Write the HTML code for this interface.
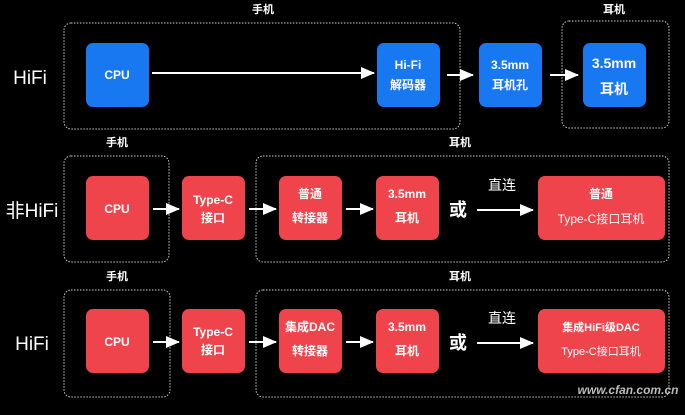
<!DOCTYPE html>
<html><head><meta charset="utf-8"><style>
html,body{margin:0;padding:0;background:#000;}
svg text{font-family:"Liberation Sans","Noto Sans CJK SC",sans-serif;fill:#fff;text-anchor:middle;}
</style></head><body>
<svg width="685" height="410" viewBox="0 0 685 410" xmlns="http://www.w3.org/2000/svg">
<defs><marker id="a" markerWidth="8" markerHeight="8" refX="7" refY="4" orient="auto" markerUnits="userSpaceOnUse"><path d="M0,0 L8,4 L0,8 z" fill="#fff"/></marker>
<marker id="b" markerWidth="14" markerHeight="12" refX="13" refY="6" orient="auto" markerUnits="userSpaceOnUse"><path d="M0,0 L14,6 L0,12 z" fill="#fff"/></marker></defs>
<g fill="none" stroke="#ccc" stroke-width="1" stroke-dasharray="1.5,1.5">
<rect x="64" y="23" width="396" height="106" rx="7"/>
<rect x="562" y="21" width="107" height="107" rx="7"/>
<rect x="64" y="156" width="105" height="106" rx="7"/>
<rect x="256" y="156" width="413" height="106" rx="7"/>
<rect x="64" y="290" width="106" height="107" rx="7"/>
<rect x="256" y="290" width="413" height="107" rx="7"/>
</g>
<g font-size="11" font-weight="bold">
<text x="263" y="13">手机</text><text x="614" y="13">耳机</text>
<text x="117" y="146">手机</text><text x="460" y="146">耳机</text>
<text x="117" y="280">手机</text><text x="460" y="280">耳机</text>
</g>
<g font-size="19"><text x="30" y="84">HiFi</text><text x="32" y="217">非HiFi</text><text x="32" y="350">HiFi</text></g>
<g fill="#1778f2">
<rect x="86" y="43" width="63" height="64" rx="7"/><rect x="377" y="43" width="63" height="64" rx="7"/>
<rect x="479" y="43" width="63" height="64" rx="7"/><rect x="583" y="43" width="63" height="64" rx="7"/>
</g>
<g fill="#ef444c">
<rect x="86" y="176" width="63" height="64" rx="7"/><rect x="182" y="176" width="63" height="64" rx="7"/>
<rect x="279" y="176" width="63" height="64" rx="7"/><rect x="376" y="176" width="63" height="64" rx="7"/>
<rect x="538" y="176" width="127" height="64" rx="7"/>
<rect x="86" y="309" width="63" height="64" rx="7"/><rect x="182" y="309" width="63" height="64" rx="7"/>
<rect x="279" y="309" width="63" height="64" rx="7"/><rect x="376" y="309" width="63" height="64" rx="7"/>
<rect x="538" y="309" width="127" height="64" rx="7"/>
</g>
<g font-size="12" font-weight="bold">
<text x="117" y="79">CPU</text>
<text x="408" y="69">Hi-Fi</text><text x="408" y="89">解码器</text>
<text x="510" y="69">3.5mm</text><text x="510" y="89">耳机孔</text>
<text x="614" y="68" font-size="14">3.5mm</text><text x="614" y="94" font-size="14">耳机</text>
<text x="117" y="213">CPU</text>
<text x="213" y="204">Type-C</text><text x="213" y="222">接口</text>
<text x="310" y="198">普通</text><text x="310" y="222">转接器</text>
<text x="407" y="198">3.5mm</text><text x="407" y="222">耳机</text>
<text x="601" y="198">普通</text><text x="601" y="223" font-weight="normal">Type-C接口耳机</text>
<text x="117" y="346">CPU</text>
<text x="213" y="336">Type-C</text><text x="213" y="354">接口</text>
<text x="310" y="331">集成DAC</text><text x="310" y="355">转接器</text>
<text x="407" y="331">3.5mm</text><text x="407" y="355">耳机</text>
<text x="601" y="331" font-size="11">集成HiFi级DAC</text><text x="601" y="355" font-size="11" font-weight="normal">Type-C接口耳机</text>
</g>
<g font-size="18" font-weight="bold"><text x="458" y="216">或</text><text x="458" y="349">或</text></g>
<g font-size="14"><text x="502" y="190">直连</text><text x="502" y="323">直连</text></g>
<g stroke="#fff" stroke-width="2">
<line x1="152" y1="73" x2="374" y2="73" marker-end="url(#b)"/>
<line x1="447" y1="75" x2="473" y2="75" marker-end="url(#b)"/>
<line x1="550" y1="75" x2="578" y2="75" marker-end="url(#b)"/>
<line x1="153" y1="209" x2="179" y2="209" marker-end="url(#b)"/>
<line x1="249" y1="209" x2="276" y2="209" marker-end="url(#b)"/>
<line x1="346" y1="209" x2="373" y2="209" marker-end="url(#b)"/>
<line x1="477" y1="210" x2="533" y2="210" marker-end="url(#b)"/>
<line x1="153" y1="342" x2="179" y2="342" marker-end="url(#b)"/>
<line x1="249" y1="342" x2="276" y2="342" marker-end="url(#b)"/>
<line x1="346" y1="342" x2="373" y2="342" marker-end="url(#b)"/>
<line x1="477" y1="343" x2="533" y2="343" marker-end="url(#b)"/>
</g>
<text x="628" y="394" font-size="12" font-weight="bold" fill="#bbb" style="fill:#bbb;font-style:italic">www.cfan.com.cn</text>
</svg>
</body></html>
